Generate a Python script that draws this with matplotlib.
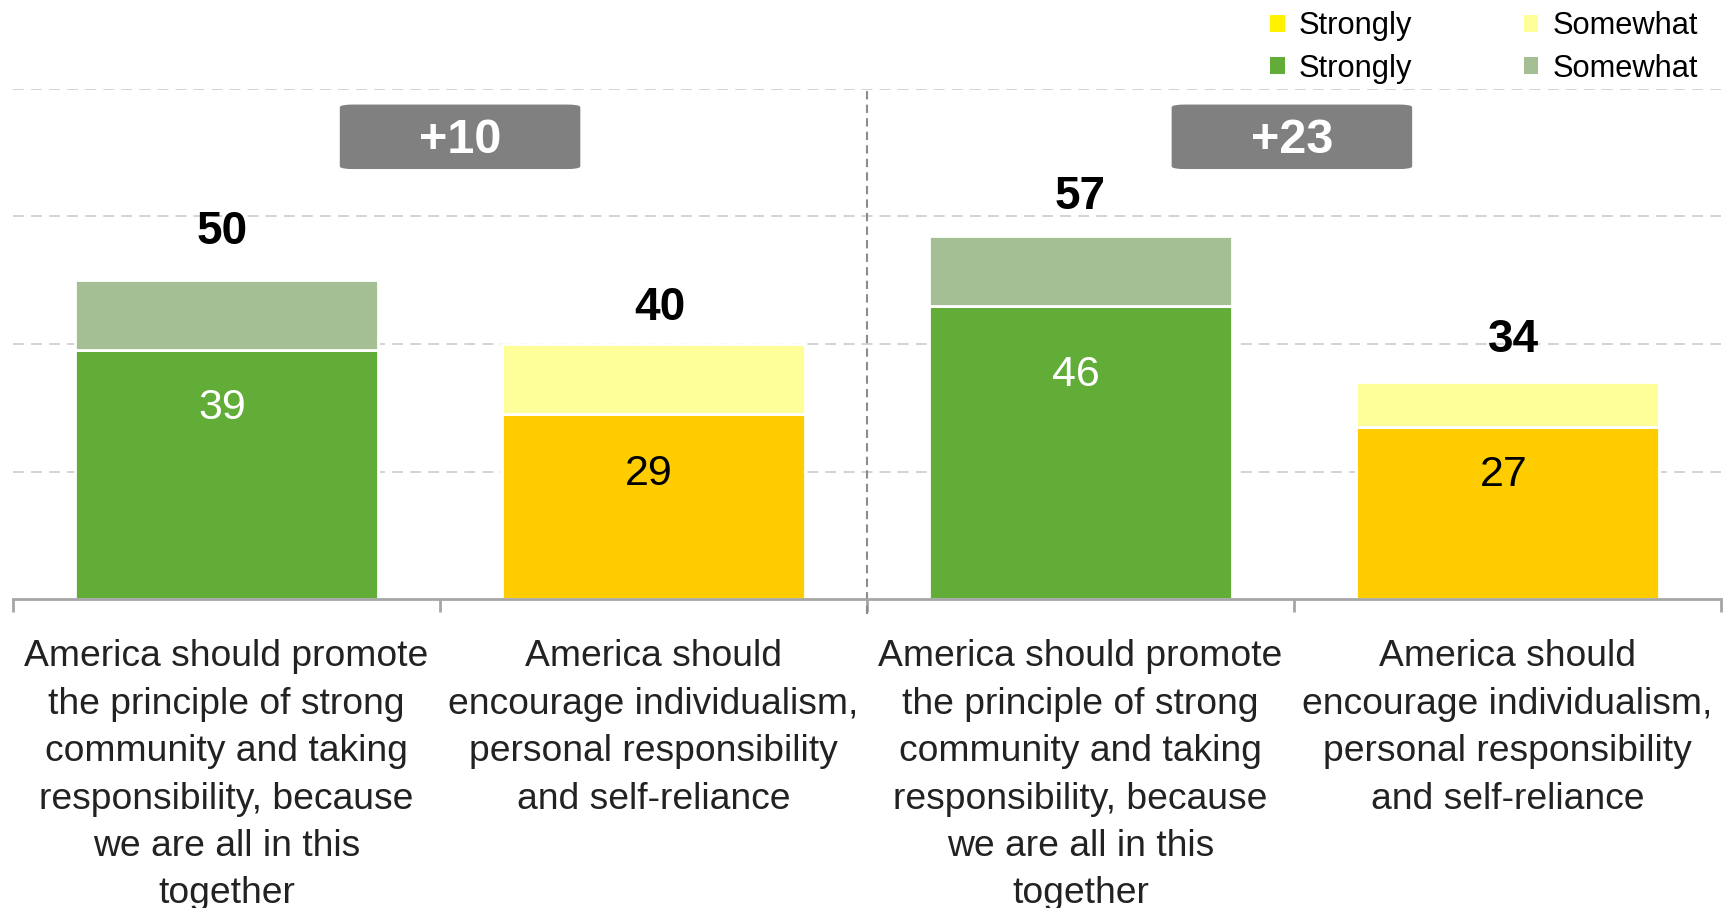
import matplotlib
matplotlib.use("Agg")
import matplotlib.pyplot as plt
from matplotlib.patches import FancyBboxPatch, Patch
import numpy as np

plt.rcParams['font.family'] = ['Liberation Sans', 'DejaVu Sans']

# ---- data ----
categories = [
    "America should promote\nthe principle of strong\ncommunity and taking\nresponsibility, because\nwe are all in this\ntogether",
    "America should\nencourage individualism,\npersonal responsibility\nand self-reliance",
    "America should promote\nthe principle of strong\ncommunity and taking\nresponsibility, because\nwe are all in this\ntogether",
    "America should\nencourage individualism,\npersonal responsibility\nand self-reliance",
]
strongly = [39, 29, 46, 27]
somewhat = [11, 11, 11, 7]
totals = [50, 40, 57, 34]
gap_labels = ["+10", "+23"]
legend_labels = ["Strongly", "Strongly", "Somewhat", "Somewhat"]

# ---- styles ----
GREEN = "#62AD37"
GREEN_L = "#A3BF93"
YELLOW = "#FFCC00"
YELLOW_L = "#FFFF99"
strong_colors = [GREEN, YELLOW, GREEN, YELLOW]
some_colors = [GREEN_L, YELLOW_L, GREEN_L, YELLOW_L]
inner_text_colors = ["white", "black", "white", "black"]
inner_label_y = [29.9, 19.6, 35.1, 19.4]
total_label_y = [57.6, 45.6, 63.1, 40.7]
total_label_dx = [-0.01, 0.015, 0.0, 0.015]
badge_x = [0.547, 2.495]
badge_y = 72.5

fig = plt.figure(figsize=(17.29, 9.08), dpi=100)
ax = fig.add_axes([0.0075, 0.3403, 0.9879, 0.5617])

x = np.arange(len(categories))
w = 0.71
ax.bar(x, strongly, width=w, color=strong_colors, edgecolor="white", linewidth=2, zorder=3)
ax.bar(x, somewhat, width=w, bottom=strongly, color=some_colors, edgecolor="white", linewidth=2, zorder=3)

for i in range(len(x)):
    ax.text(x[i] - 0.01, inner_label_y[i], str(strongly[i]), ha="center", va="center",
            fontsize=31, color=inner_text_colors[i], zorder=4)
    ax.text(x[i] + total_label_dx[i], total_label_y[i], str(totals[i]), ha="center", va="center",
            fontsize=33, fontweight="bold", color="black", zorder=4)

for bx, lab in zip(badge_x, gap_labels):
    bw, bh = 0.56, 9.9
    p = FancyBboxPatch((bx - bw / 2, badge_y - bh / 2), bw, bh,
                       boxstyle="round,pad=0.0,rounding_size=0.03",
                       mutation_aspect=12, facecolor="#808080", edgecolor="#808080",
                       linewidth=1, zorder=4)
    ax.add_patch(p)
    ax.text(bx, badge_y - 0.6, lab, ha="center", va="center", fontsize=35,
            fontweight="bold", color="white", zorder=5)

ax.set_xlim(-0.5, len(categories) - 0.5)
ax.set_ylim(0, 80)

# gridlines
for gy in [20, 40, 60, 80]:
    ax.axhline(gy, color="#D0D0D0", linestyle=(0, (6, 4)), linewidth=1.3, zorder=1)
# middle separator
ax.plot([1.5, 1.5], [-2.4, 80], color="#8C8C8C", linestyle=(0, (4, 2.5)), linewidth=1.5,
        zorder=2, clip_on=False)

for s in ["top", "right", "left"]:
    ax.spines[s].set_visible(False)
ax.spines["bottom"].set_color("#A6A6A6")
ax.spines["bottom"].set_linewidth(2)
ax.spines["bottom"].set_zorder(5)
ax.set_yticks([])
ax.set_xticks(x)
ax.set_xticklabels(categories, fontsize=26.8, color="#222222", linespacing=1.46)
ax.tick_params(axis="x", which="major", length=0, pad=29)
ax.set_xticks(np.arange(-0.5, len(categories), 1.0), minor=True)
ax.tick_params(axis="x", which="minor", length=9, width=2, color="#A6A6A6")

handles = [Patch(facecolor="#FFF200"), Patch(facecolor=GREEN),
           Patch(facecolor=YELLOW_L), Patch(facecolor=GREEN_L)]
fig.legend(handles, legend_labels, ncol=2, loc="upper right", bbox_to_anchor=(0.998, 1.018),
           frameon=False, fontsize=22.2, handlelength=0.48, handleheight=0.48,
           handletextpad=0.45, columnspacing=3.6, labelspacing=0.4)

fig.savefig("out.png", dpi=100)
